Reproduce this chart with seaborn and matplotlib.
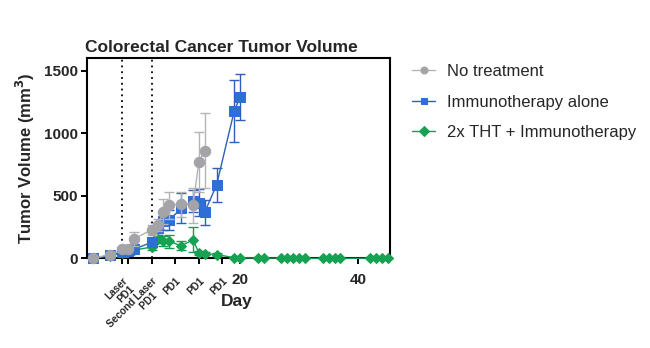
import numpy as np
import pandas as pd
import matplotlib
matplotlib.use("Agg")
import matplotlib.pyplot as plt
import seaborn as sns

# Measurement days and mean tumor volumes (mm^3) with SEM
days_none = [-5, -2, 0, 1, 2, 5, 6, 7, 8, 10, 12, 13, 14]
vol_none = [0, 30, 72, 78, 155, 228, 265, 373, 424, 434, 424, 770, 860]
err_none = [0, 8, 15, 15, 55, 40, 50, 100, 110, 100, 140, 240, 300]

days_immuno = [-5, -2, 0, 1, 2, 5, 6, 7, 8, 10, 12, 13, 14, 16, 19, 20]
vol_immuno = [0, 25, 50, 55, 72, 128, 240, 300, 305, 400, 460, 445, 370, 586, 1180, 1290]
err_immuno = [0, 5, 10, 10, 15, 30, 40, 70, 80, 120, 90, 110, 100, 133, 250, 185]

days_tht = [-5, -2, 0, 1, 2, 5, 6, 7, 8, 10, 12, 13, 14, 16, 19, 20, 23, 24,
            27, 28, 29, 30, 31, 34, 35, 36, 37, 42, 43, 44, 45]
vol_tht = [0, 20, 45, 50, 65, 90, 155, 140, 135, 100, 148, 45, 38, 30, 5, 4, 2, 2,
           1, 1, 1, 0, 0, 0, 0, 0, 0, 0, 0, 0, 0]
err_tht = [0, 5, 10, 10, 15, 20, 30, 40, 55, 35, 100, 15, 10, 10, 3, 2, 1, 1,
           0, 0, 0, 0, 0, 0, 0, 0, 0, 0, 0, 0, 0]

group_names = ["No treatment", "Immunotherapy alone", "2x THT + Immunotherapy"]

# Treatment event ticks along the day axis (laser + PD1 on day 0, PD1 on day 1 shares that label)
event_days = [0, 1, 5, 9, 13, 17]
event_labels = ["Laser\nPD1", "", "Second Laser\nPD1    ", "PD1", "PD1", "PD1"]
laser_days = [0, 5]
day_ticks = [20, 40]
vol_ticks = [0, 500, 1000, 1500]

df = pd.concat([
    pd.DataFrame({"Day": days_none, "Volume": vol_none, "SEM": err_none, "Group": group_names[0]}),
    pd.DataFrame({"Day": days_immuno, "Volume": vol_immuno, "SEM": err_immuno, "Group": group_names[1]}),
    pd.DataFrame({"Day": days_tht, "Volume": vol_tht, "SEM": err_tht, "Group": group_names[2]}),
], ignore_index=True)

sns.set_theme(style="ticks")
plt.rcParams["font.family"] = ["Liberation Sans", "DejaVu Sans"]

colors = {group_names[0]: "#a3a3a8", group_names[1]: "#2d6fd6", group_names[2]: "#17a152"}
line_colors = {group_names[0]: "#b4b4b8", group_names[1]: "#2f5fb8", group_names[2]: "#1a9a50"}
markers = {group_names[0]: "o", group_names[1]: "s", group_names[2]: "D"}
msizes = {group_names[0]: 7.5, group_names[1]: 7.5, group_names[2]: 5.5}
zorders = {group_names[0]: 5, group_names[1]: 4, group_names[2]: 3}

fig = plt.figure(figsize=(6.5, 3.48), dpi=100)
ax = fig.add_axes([0.1335, 0.2578, 0.4665, 0.5747])

for g in group_names:
    sub = df[df["Group"] == g]
    ax.errorbar(sub["Day"], sub["Volume"], yerr=sub["SEM"], fmt="none",
                ecolor=line_colors[g], elinewidth=1.0, capsize=3.8, capthick=1.0,
                zorder=zorders[g], clip_on=False)
    sns.lineplot(data=sub, x="Day", y="Volume", ax=ax, color=line_colors[g],
                 linewidth=1.0, marker=markers[g], markersize=msizes[g],
                 markerfacecolor=colors[g], markeredgecolor=colors[g],
                 label=g, zorder=zorders[g] + 0.5, clip_on=False)

for d in laser_days:
    ax.axvline(d, color="black", linestyle=(0, (1, 2.2)), linewidth=1.3, zorder=1)

ax.set_xlim(-6, 45.4)
ax.set_ylim(0, 1600)
ax.set_yticks(vol_ticks)
ax.set_xticks(day_ticks)
ax.set_xticks(event_days, minor=True)
ax.set_xticklabels([str(t) for t in day_ticks], fontsize=11, fontweight="bold")
ax.set_xticklabels(event_labels, minor=True, fontsize=7.2, fontweight="bold",
                   rotation=45, ha="right", va="top", rotation_mode="anchor",
                   multialignment="right", linespacing=1.1)
ax.set_yticklabels([str(t) for t in vol_ticks], fontsize=11, fontweight="bold")
ax.tick_params(axis="both", which="both", length=4.5, width=1.4, color="black")
ax.tick_params(axis="x", which="major", pad=6)
ax.tick_params(axis="x", which="minor", pad=8)
ax.tick_params(axis="y", pad=2)
for s in ["left", "bottom", "top", "right"]:
    ax.spines[s].set_linewidth(1.5)
    ax.spines[s].set_color("black")

ax.set_xlabel("Day", fontsize=12.5, fontweight="bold")
ax.xaxis.set_label_coords(0.495, -0.18)
ax.set_ylabel("Tumor Volume (mm$^\\mathbf{3}$)", fontsize=12, fontweight="bold", labelpad=5)
fig.text(0.131, 0.852, "Colorectal Cancer Tumor Volume", fontsize=12.5, fontweight="bold",
         ha="left", va="baseline")

leg = ax.legend(loc="upper left", bbox_to_anchor=(0.634, 0.816),
                bbox_transform=fig.transFigure, frameon=False, borderaxespad=0,
                borderpad=0, fontsize=12, handlelength=1.4, handletextpad=0.7,
                labelspacing=0.93)
for h in leg.legend_handles:
    h.set_markersize(5)

fig.savefig("out.png", dpi=100)
